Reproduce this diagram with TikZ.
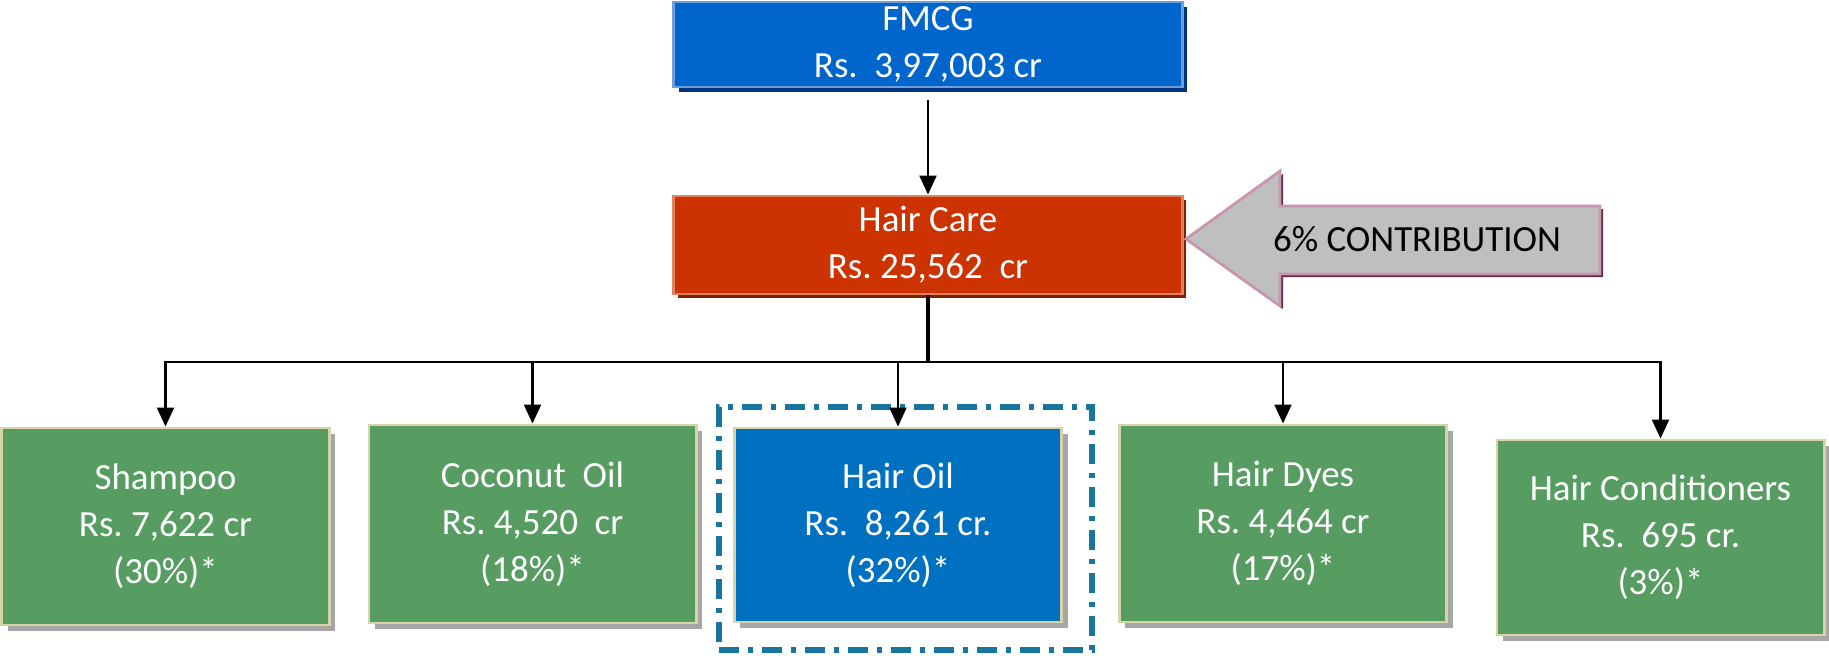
\documentclass[tikz,border=0pt]{standalone}
\usepackage{fontspec}
\setmainfont{Carlito}
\frenchspacing
\usetikzlibrary{
  arrows.meta,
  positioning,
  shadows
}
\definecolor{FmcgBlue}{RGB}{0,102,204}
\definecolor{FmcgEdge}{RGB}{110,160,220}
\definecolor{FmcgShade}{RGB}{0,51,128}
\definecolor{CareRed}{RGB}{204,51,0}
\definecolor{CareEdge}{RGB}{225,130,100}
\definecolor{CareShade}{RGB}{128,32,0}
\definecolor{OilBlue}{RGB}{0,112,192}
\definecolor{SegGreen}{RGB}{87,157,98}
\definecolor{SegEdge}{RGB}{217,212,166}
\definecolor{ShadeGray}{RGB}{166,166,166}
\definecolor{FrameTeal}{RGB}{23,117,160}
\definecolor{ArrowGray}{RGB}{191,191,191}
\definecolor{ArrowEdge}{RGB}{200,150,175}
\definecolor{ArrowShade}{RGB}{90,45,72}
\tikzset{
  boxfont/.style={font=\fontsize{10.5}{13.3}\selectfont},
  topnode/.style={boxfont,fill=FmcgBlue,draw=FmcgEdge,line width=0.8pt,text=white,align=center,inner sep=0pt,minimum width=5.08cm,minimum height=0.85cm,drop shadow={shadow xshift=0.05cm,shadow yshift=-0.05cm,fill=FmcgShade,opacity=1}},
  carenode/.style={boxfont,fill=CareRed,draw=CareEdge,line width=0.8pt,text=white,align=center,inner sep=0pt,minimum width=5.08cm,minimum height=0.98cm,drop shadow={shadow xshift=0.04cm,shadow yshift=-0.04cm,fill=CareShade,opacity=1}},
  segnode/.style={boxfont,fill=SegGreen,draw=SegEdge,line width=0.8pt,text=white,align=center,inner sep=0pt,minimum width=3.27cm,minimum height=1.97cm,drop shadow={shadow xshift=0.06cm,shadow yshift=-0.06cm,fill=ShadeGray,opacity=1}},
  oilnode/.style={segnode,fill=OilBlue},
  focusframe/.style={draw=FrameTeal,line width=1.5pt,dash pattern=on 0.2cm off 0.09cm on 0.05cm off 0.09cm,minimum width=3.73cm,minimum height=2.43cm,inner sep=0pt},
  bigarrow/.style={fill=ArrowGray,draw=ArrowEdge,line width=0.8pt,drop shadow={shadow xshift=0.03cm,shadow yshift=-0.03cm,fill=ArrowShade,opacity=1}},
  contribtext/.style={boxfont,text=black,inner sep=0pt},
  branch/.style={-{Triangle[length=0.19cm,width=0.17cm]},line width=0.6pt,draw=black},
  trunk/.style={line width=0.9pt,draw=black}
}
\begin{document}
\begin{tikzpicture}[x=0.01cm,y=-0.01cm]
\useasboundingbox (0,0) rectangle (1829,657);

\node[topnode] (fmcg) at (928,44.5) {FMCG\\Rs.\ \ 3,97,003 cr};
\node[carenode] (haircare) at (928,245) {Hair Care\\Rs. 25,562\ \ cr};

\draw[bigarrow] (1186,239) -- (1280,171) -- (1280,206) -- (1600,206) -- (1600,274) -- (1280,274) -- (1280,306) -- cycle;
\node[contribtext] (contrib) at (1417,239) {6\% CONTRIBUTION};

\node[segnode] (shampoo) at (165.5,526.5) {Shampoo\\Rs. 7,622 cr\\(30\%)*};
\node[segnode, minimum height=1.98cm] (coconut) at (532.5,524) {Coconut\ \ Oil\\Rs. 4,520\ \ cr\\(18\%)*};
\node[oilnode, minimum height=1.94cm] (hairoil) at (898,525) {Hair Oil\\Rs.\ \ 8,261 cr.\\(32\%)*};
\node[segnode] (hairdyes) at (1283,523.5) {Hair Dyes\\Rs. 4,464 cr\\(17\%)*};
\node[segnode, minimum height=1.95cm] (conditioner) at (1660.5,537.5) {Hair Conditioners\\Rs.\ \ 695 cr.\\(3\%)*};

\node[focusframe] (focus) at (905.5,528.5) {};

\coordinate (bus) at (928,362);

\draw[branch, shorten <=0.12cm] (fmcg) -- (haircare);
\draw[trunk] (haircare) -- (bus);
\foreach \seg in {shampoo,coconut,hairoil,hairdyes,conditioner}
  \draw[branch] (bus) -| (\seg.north);
\end{tikzpicture}
\end{document}
